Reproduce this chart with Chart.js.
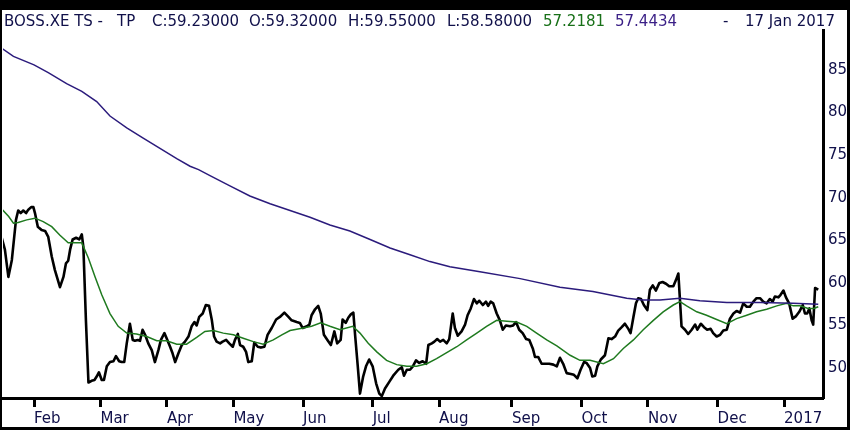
<!DOCTYPE html>
<html>
<head>
<meta charset="utf-8">
<title>BOSS.XE TS</title>
<script src="https://cdn.jsdelivr.net/npm/chart.js@4.4.1/dist/chart.umd.min.js"></script>
<style>
  html, body { margin: 0; padding: 0; background: #fff; }
  #wrap { position: relative; width: 850px; height: 430px; overflow: hidden; }
  #chart { position: absolute; left: 0; top: 0; }
  #frame { position: absolute; left: 0; top: 0; width: 850px; height: 430px; box-sizing: border-box;
           border-style: solid; border-color: #000; border-width: 10px 3px 3px 2px; pointer-events: none; }
  .hd { position: absolute; top: 14px; font: 15px "DejaVu Sans", sans-serif; line-height: 15px;
        color: #10104a; white-space: pre; }
  .ma1 { color: #187018; }
  .ma2 { color: #3a1f86; }
</style>
</head>
<body>
<div id="wrap">
  <canvas id="chart" width="850" height="430"></canvas>
  <div class="hd" style="left:4px">BOSS.XE TS -</div>
  <div class="hd" style="left:117px">TP</div>
  <div class="hd" style="left:152px">C:59.23000</div>
  <div class="hd" style="left:249px">O:59.32000</div>
  <div class="hd" style="left:348px">H:59.55000</div>
  <div class="hd" style="left:447px">L:58.58000</div>
  <div class="hd ma1" style="left:543px">57.2181</div>
  <div class="hd ma2" style="left:615px">57.4434</div>
  <div class="hd" style="left:723px">-</div>
  <div class="hd" style="left:745px">17 Jan 2017</div>
  <div id="frame"></div>
</div>
<script>
// x values are trading days counted from 1 Feb 2016
const monthDays = [0, 21, 42, 63, 85, 107, 128, 151, 173, 194, 216, 237];
const monthLabels = ['Feb', 'Mar', 'Apr', 'May', 'Jun', 'Jul', 'Aug', 'Sep', 'Oct', 'Nov', 'Dec', '2017'];
const priceTicks = [50, 55, 60, 65, 70, 75, 80, 85];

// closing price
const closeDays = [
  -10.2, -9.2, -8.1, -7.0, -5.7, -5.0, -4.2, -3.4, -2.5, -1.8,
  -0.9, -0.2, 0.3, 1.2, 2.4, 3.5, 4.5, 5.6, 6.6, 7.4,
  8.2, 9.3, 10.1, 10.8, 11.4, 12.2, 13.3, 14.3, 15.1, 15.6,
  16.4, 17.2, 18.2, 19.1, 19.8, 20.5, 21.4, 22.1, 23.0, 24.0,
  25.1, 25.9, 26.9, 27.7, 28.5, 29.3, 30.3, 31.2, 31.9, 32.8,
  33.5, 34.3, 35.1, 36.1, 37.2, 38.2, 39.3, 40.1, 41.2, 41.9,
  43.0, 43.8, 44.6, 45.6, 46.7, 47.7, 48.8, 49.8, 50.7, 51.4,
  52.2, 53.3, 54.3, 55.3, 56.2, 56.9, 57.7, 58.8, 59.6, 60.7,
  61.7, 62.8, 63.5, 64.4, 65.1, 66.1, 67.0, 67.7, 68.8, 69.6,
  70.7, 71.7, 72.8, 73.8, 75.1, 76.5, 77.7, 79.1, 80.4, 81.4,
  83.0, 84.0, 84.9, 86.2, 87.0, 87.7, 88.8, 89.8, 90.6, 91.6,
  92.7, 93.8, 94.9, 95.8, 96.9, 97.5, 98.5, 99.3, 100.1, 100.9,
  101.5, 102.3, 103.0, 104.0, 104.9, 105.9, 107.0, 108.1, 109.1, 109.9,
  110.9, 112.3, 113.5, 115.1, 116.2, 116.9, 117.8, 118.8, 119.7, 120.7,
  121.7, 122.8, 123.9, 124.6, 125.7, 126.5, 127.4, 128.3, 129.3, 130.4,
  131.2, 132.3, 133.0, 133.9, 135.1, 136.2, 137.0, 138.0, 139.0, 139.9,
  140.7, 141.8, 142.8, 143.5, 144.3, 145.1, 146.2, 147.2, 148.1, 149.1,
  150.4, 151.4, 152.3, 153.3, 154.4, 155.5, 156.5, 157.6, 158.3, 159.3,
  160.4, 161.5, 162.8, 164.1, 165.2, 166.2, 167.2, 168.3, 169.6, 170.6,
  171.7, 172.7, 173.8, 174.6, 175.7, 176.4, 177.3, 178.0, 179.1, 180.4,
  181.5, 182.5, 183.6, 184.6, 185.7, 186.7, 187.8, 188.5, 189.4, 190.2,
  190.9, 191.8, 192.7, 193.8, 194.6, 195.5, 196.5, 197.6, 198.6, 199.7,
  200.7, 202.0, 202.8, 203.6, 204.1, 204.6, 205.7, 206.7, 207.8, 208.9,
  209.6, 210.7, 211.7, 212.7, 213.8, 214.6, 215.7, 216.8, 217.8, 218.9,
  219.9, 221.0, 222.0, 223.1, 224.1, 225.2, 226.2, 227.3, 228.3, 229.4,
  230.4, 231.5, 232.5, 233.4, 234.1, 235.2, 235.9, 236.8, 237.6, 238.6,
  239.7, 240.8, 241.8, 242.9, 243.6, 244.3, 245.0, 245.7, 246.2, 246.8, 247.8
];
const closeVals = [
  65.3, 63.9, 60.7, 62.7, 67.4, 68.5, 68.2, 68.5, 68.2, 68.6,
  68.9, 68.9, 68.2, 66.6, 66.2, 66.1, 65.4, 63.1, 61.5, 60.5,
  59.5, 60.7, 62.3, 62.6, 63.9, 65.1, 65.3, 65.1, 65.7, 64.2,
  55.6, 48.3, 48.5, 48.6, 49.0, 49.5, 48.6, 48.6, 50.2, 50.7,
  50.8, 51.4, 50.8, 50.7, 50.7, 52.9, 55.2, 53.3, 53.2, 53.3,
  53.2, 54.5, 53.9, 52.9, 52.1, 50.7, 52.1, 53.3, 54.1, 53.5,
  52.5, 51.7, 50.7, 51.7, 52.7, 53.1, 53.7, 54.9, 55.4, 55.0,
  56.0, 56.4, 57.4, 57.3, 55.6, 53.7, 53.1, 52.9, 53.1, 53.3,
  52.9, 52.5, 53.3, 54.0, 52.7, 52.5, 51.9, 50.7, 50.8, 53.0,
  52.5, 52.4, 52.5, 53.9, 54.7, 55.7, 56.0, 56.5, 56.0, 55.6,
  55.4, 55.3, 54.7, 54.9, 55.1, 56.2, 56.9, 57.3, 56.4, 53.9,
  53.3, 52.7, 54.3, 52.9, 53.3, 55.7, 55.3, 55.9, 56.3, 56.5,
  53.7, 50.2, 47.0, 49.0, 50.2, 51.0, 50.2, 48.2, 47.0, 46.7,
  47.6, 48.4, 49.1, 49.8, 50.1, 49.1, 49.8, 49.8, 50.2, 50.9,
  50.6, 50.8, 50.5, 52.7, 52.9, 53.1, 53.4, 53.1, 53.3, 52.9,
  53.4, 56.4, 54.7, 53.8, 54.3, 55.1, 56.2, 57.0, 58.1, 57.6,
  57.9, 57.4, 57.8, 57.3, 57.8, 57.6, 56.4, 55.6, 54.5, 55.0,
  54.9, 55.0, 55.4, 54.5, 54.1, 53.4, 53.3, 52.3, 51.3, 51.3,
  50.5, 50.5, 50.5, 50.4, 50.2, 51.2, 50.5, 49.4, 49.3, 49.2,
  48.8, 49.8, 50.7, 50.6, 50.0, 49.0, 49.1, 50.2, 51.0, 51.5,
  53.5, 53.4, 53.7, 54.4, 54.8, 55.2, 54.6, 54.1, 56.0, 57.6,
  58.2, 58.1, 57.4, 56.8, 59.2, 59.7, 59.1, 60.0, 60.1, 59.9,
  59.6, 59.6, 60.3, 61.1, 58.0, 54.9, 54.5, 54.0, 54.5, 55.1,
  54.5, 55.2, 54.8, 54.5, 54.6, 54.1, 53.7, 53.9, 54.4, 54.5,
  55.8, 56.4, 56.7, 56.5, 57.6, 57.2, 57.2, 57.8, 58.2, 58.2,
  57.8, 57.6, 58.1, 57.8, 58.4, 58.3, 58.6, 59.1, 58.3, 57.6,
  55.8, 56.1, 56.6, 57.4, 56.4, 56.4, 57.0, 55.6, 55.1, 59.4, 59.2
];

// short moving average (green)
const maShortDays = [
  -10, -8, -6.5, -5, -2.3, 0.3, 2.9, 5.6, 8.2, 10.8,
  13, 15.1, 17.2, 19.3, 21.4, 24, 26.6, 29.3, 32.4, 35.6,
  38.8, 41.9, 45.1, 48.2, 51.4, 54, 56.7, 59.8, 63, 66.1,
  69.3, 72.4, 75.6, 78.3, 80.9, 85.1, 87.7, 90.6, 93.5, 96.7,
  100.7, 103, 105.6, 108.3, 111.4, 114.6, 117.8, 120.9, 124.1, 127.2,
  130.4, 133.6, 136.7, 139.9, 143, 146.2, 149.4, 152.5, 155.7, 158.8,
  162, 165.2, 169.4, 172.5, 175.7, 179.9, 183.1, 186.2, 189.4, 192.5,
  195.7, 198.8, 202, 204.1, 206.2, 209.4, 212.5, 215.7, 218.9, 222,
  225.2, 228.3, 231.5, 234.7, 237.8, 239.9, 242, 244.6, 246.4, 247.8
];
const maShortVals = [
  68.6, 67.8, 67.0, 67.1, 67.4, 67.6, 67.2, 66.6, 65.6, 64.7,
  64.7, 64.7, 62.9, 60.7, 58.6, 56.4, 54.9, 54.1, 54.0, 53.7,
  53.2, 53.2, 52.8, 52.8, 53.6, 54.3, 54.4, 54.1, 53.9, 53.5,
  53.1, 52.8, 53.3, 53.9, 54.4, 54.7, 54.9, 55.3, 54.9, 54.5,
  54.9, 54.1, 52.9, 51.9, 50.9, 50.4, 50.2, 50.2, 50.5, 51.1,
  51.8, 52.5, 53.3, 54.1, 54.9, 55.6, 55.5, 55.4, 54.9, 54.1,
  53.3, 52.6, 51.5, 50.9, 50.9, 50.5, 51.1, 52.3, 53.3, 54.5,
  55.6, 56.6, 57.4, 57.8, 57.3, 56.6, 56.2, 55.7, 55.2, 55.8,
  56.2, 56.6, 56.9, 57.3, 57.6, 57.3, 57.3, 57.0, 57.0, 57.2
];

// long moving average (purple)
const maLongDays = [
  -10, -6.5, 0, 4.5, 10.3, 15.1, 19.8, 24, 29.3, 34.5,
  39.8, 45.1, 49.3, 52, 55.6, 61.9, 68.2, 74.6, 80.9, 87.2,
  93.5, 99.8, 106.2, 112.5, 118.8, 125.1, 131.4, 140.9, 153.6, 166.2,
  176.6, 187.3, 192.4, 197.8, 204.1, 210.4, 218.9, 229.4, 239.8, 247.8
];
const maLongVals = [
  87.5, 86.6, 85.6, 84.7, 83.4, 82.5, 81.3, 79.6, 78.2, 77.0,
  75.8, 74.6, 73.7, 73.3, 72.6, 71.4, 70.2, 69.3, 68.5, 67.7,
  66.8, 66.1, 65.1, 64.1, 63.3, 62.5, 61.9, 61.3, 60.5, 59.5,
  59.0, 58.2, 58.0, 58.0, 58.2, 57.9, 57.7, 57.7, 57.6, 57.5
];

function toPoints(days, vals) {
    return days.map((d, i) => ({ x: d, y: vals[i] }));
}

const textColor = '#10104a';
const axisFont = { family: '"DejaVu Sans", sans-serif', size: 15 };

const ctx = document.getElementById('chart').getContext('2d');
new Chart(ctx, {
    type: 'line',
    data: {
        datasets: [{
            label: 'Close',
            data: toPoints(closeDays, closeVals),
            borderColor: '#000000',
            borderWidth: 2.6,
            borderJoinStyle: 'round',
            pointRadius: 0,
            order: 3
        }, {
            label: 'MA short',
            data: toPoints(maShortDays, maShortVals),
            borderColor: '#1f7a1f',
            borderWidth: 1.5,
            pointRadius: 0,
            order: 2
        }, {
            label: 'MA long',
            data: toPoints(maLongDays, maLongVals),
            borderColor: '#2b1b7c',
            borderWidth: 1.5,
            pointRadius: 0,
            order: 1
        }]
    },
    options: {
        responsive: false,
        animation: false,
        events: [],
        layout: {
            padding: { left: 3, top: 30, right: 3, bottom: 3 }
        },
        plugins: {
            legend: { display: false },
            tooltip: { enabled: false }
        },
        scales: {
            x: {
                type: 'linear',
                position: 'bottom',
                min: -9.8,
                max: 249.3,
                afterBuildTicks: scale => {
                    scale.ticks = monthDays.map(v => ({ value: v }));
                },
                afterFit: scale => {
                    scale.height = 29;
                },
                ticks: {
                    autoSkip: false,
                    maxRotation: 0,
                    align: 'start',
                    padding: 3,
                    color: textColor,
                    font: axisFont,
                    callback: (value, index) => monthLabels[index]
                },
                grid: {
                    drawOnChartArea: false,
                    drawTicks: true,
                    tickLength: 9,
                    tickWidth: 3,
                    tickColor: '#000000'
                },
                border: { display: true, color: '#000000', width: 3 }
            },
            y: {
                type: 'linear',
                position: 'right',
                min: 46.48,
                max: 89.7,
                afterBuildTicks: scale => {
                    scale.ticks = priceTicks.map(v => ({ value: v }));
                },
                afterFit: scale => {
                    scale.width = 24;
                },
                ticks: {
                    padding: 5,
                    color: textColor,
                    font: axisFont
                },
                grid: { drawOnChartArea: false, drawTicks: false },
                border: { display: true, color: '#000000', width: 3 }
            }
        }
    }
});
</script>
</body>
</html>
